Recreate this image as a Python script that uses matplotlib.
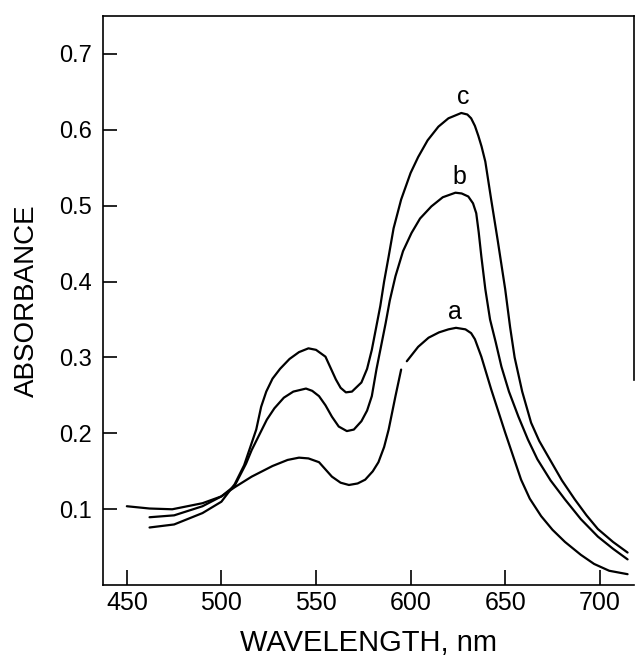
"""Absorbance spectra a, b, c."""

import numpy as np
import matplotlib.pyplot as plt

plt.rcParams['font.family'] = ['Liberation Sans', 'DejaVu Sans']

# curve a (gap near 596 nm, as in the original trace)
WL_A = [450, 462, 474, 490, 500, 507, 516, 527, 535, 541, 546, 551.6, 558.4,
        563, 567.4, 572, 576, 580, 583, 586, 588.4, 592, 595, np.nan,
        598, 604, 609.5, 615, 620, 624, 629, 632, 634, 637.4, 642.6, 650,
        658.4, 663, 669, 675, 681.6, 690, 697, 705, 714.7]
ABS_A = [0.104, 0.101, 0.100, 0.108, 0.117, 0.129, 0.143, 0.157, 0.165, 0.168,
         0.167, 0.162, 0.143, 0.135, 0.132, 0.134, 0.139, 0.150, 0.162, 0.182,
         0.205, 0.249, 0.284, np.nan,
         0.295, 0.314, 0.326, 0.333, 0.337, 0.339, 0.337, 0.332, 0.324, 0.301,
         0.258, 0.201, 0.139, 0.114, 0.091, 0.073, 0.057, 0.040, 0.028, 0.019,
         0.0145]

WL_B = [462, 475, 490, 500, 507, 513, 516, 520, 524, 528, 533, 538, 544.7,
        548, 551.6, 555, 558.4, 562, 566.3, 570, 574, 577, 579.5, 582, 584,
        586.8, 589, 592, 596, 600.5, 605, 611, 617, 623.7, 627, 630.5, 633,
        634.7, 636, 637.4, 639.5, 642, 645, 648, 652, 657, 662, 667, 674,
        681.6, 690, 699, 707, 714.7]
ABS_B = [0.0895, 0.092, 0.104, 0.117, 0.131, 0.160, 0.178, 0.198, 0.218, 0.233,
         0.247, 0.255, 0.259, 0.256, 0.249, 0.237, 0.222, 0.209, 0.203, 0.205,
         0.216, 0.230, 0.249, 0.285, 0.310, 0.345, 0.375, 0.407, 0.440, 0.464,
         0.483, 0.499, 0.511, 0.517, 0.516, 0.512, 0.503, 0.490, 0.465, 0.433,
         0.390, 0.350, 0.320, 0.288, 0.255, 0.222, 0.192, 0.166, 0.138, 0.113,
         0.087, 0.064, 0.048, 0.034]

WL_C = [462, 475, 490, 500, 507, 512, 515, 518.4, 521, 523.7, 527, 531, 536,
        541, 546, 550, 555, 560.5, 563, 565.8, 569, 574, 577, 579.5, 581.6,
        584, 586, 588.4, 591, 595, 600, 604, 609, 614.7, 620, 626.8, 630, 632,
        634, 635.8, 637.5, 639.5, 642.6, 646, 650, 652.6, 655, 659, 663.7, 668,
        672.6, 680, 686.8, 693, 699, 707, 714.7]
ABS_C = [0.076, 0.080, 0.095, 0.110, 0.133, 0.158, 0.180, 0.205, 0.235, 0.255,
         0.272, 0.285, 0.298, 0.307, 0.312, 0.310, 0.301, 0.271, 0.260, 0.254,
         0.255, 0.267, 0.285, 0.310, 0.337, 0.368, 0.400, 0.433, 0.470, 0.508,
         0.543, 0.564, 0.586, 0.604, 0.615, 0.622, 0.620, 0.615, 0.605, 0.592,
         0.578, 0.558, 0.508, 0.455, 0.390, 0.340, 0.300, 0.255, 0.214, 0.190,
         0.170, 0.138, 0.113, 0.092, 0.074, 0.057, 0.043]

CURVE_LABELS = ['a', 'b', 'c']
LABEL_WL = [623.7, 625.8, 627.9]
LABEL_ABS = [0.36, 0.538, 0.643]

X_TICKS = [450, 500, 550, 600, 650, 700]
Y_TICKS = [0.1, 0.2, 0.3, 0.4, 0.5, 0.6, 0.7]


fig = plt.figure(figsize=(6.37, 6.59), dpi=100)
ax = fig.add_axes([0.162, 0.112, 0.833, 0.864])

for wl, ab in [(WL_A, ABS_A), (WL_B, ABS_B), (WL_C, ABS_C)]:
    ax.plot(wl, ab, color='black', lw=1.6, solid_capstyle='round')

for lab, x, y in zip(CURVE_LABELS, LABEL_WL, LABEL_ABS):
    ax.text(x, y, lab, fontsize=18, ha='center', va='center')

ax.set_xlim(437.5, 718)
ax.set_ylim(0.0, 0.75)
ax.set_xticks(X_TICKS)
ax.set_yticks(Y_TICKS)
ax.set_yticklabels(["%.1f" % t for t in Y_TICKS])

ax.tick_params(axis='x', direction='in', length=11, width=1.2, labelsize=18, pad=4)
ax.tick_params(axis='y', direction='in', length=10, width=1.2, labelsize=17, pad=8)

for side in ['left', 'bottom', 'top', 'right']:
    ax.spines[side].set_linewidth(1.2)
ax.spines['right'].set_bounds(0.27, 0.75)

ax.set_xlabel("WAVELENGTH, nm", fontsize=21, labelpad=10)
ax.set_ylabel("ABSORBANCE", fontsize=20, labelpad=14)

fig.savefig("out.png", dpi=100)
